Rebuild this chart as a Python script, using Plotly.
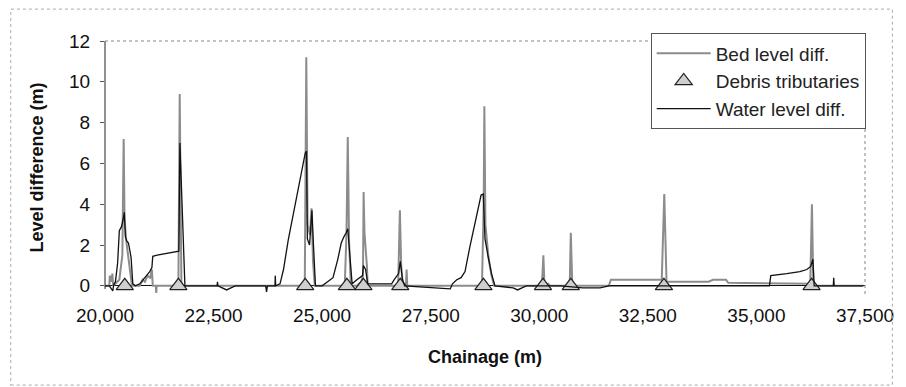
import plotly.graph_objects as go

# ---- data ----
bed_x = [20000, 20100, 20110, 20140, 20170, 20190, 20330, 20400, 20430, 20450, 20490, 20530, 20580, 20620,
         20800, 20870, 20920, 20980, 21040, 21080, 21100, 21170, 21180, 21190, 21690, 21720, 21760,
         24600, 24635, 24665, 24720, 24755, 24790, 24830, 25520, 25560, 25590, 25620, 25660,
         25800, 25900, 25940, 25955, 25975, 26030, 26050, 26750, 26790, 26820, 26860, 26930, 26945, 26960,
         28680, 28720, 28735, 28760, 28830, 28900, 28960, 30060, 30094, 30120, 30200, 30250, 30700, 30726, 30760,
         31600, 31650, 32820, 32878, 32930, 33900, 34000, 34300, 34350, 36240, 36278, 36310, 37460]
bed_y = [0.0, 0.0, 0.5, 0.2, 0.6, 0.0, 0.3, 1.5, 7.2, 3.3, 2.2, 1.5, 0.6, 0.0,
         0.0, 0.3, 0.2, 0.5, 0.4, 0.8, 0.0, 0.0, -0.35, 0.0, 0.0, 9.4, 0.0,
         0.0, 11.2, 3.0, 2.5, 3.8, 1.2, 0.0, 0.0, 2.5, 7.3, 2.2, 0.0,
         0.0, 0.2, 0.5, 4.6, 2.6, 1.0, 0.0, 0.0, 3.7, 1.0, 0.0, 0.0, 0.8, 0.0,
         0.0, 4.0, 8.8, 3.0, 1.4, 0.5, 0.0, 0.0, 1.5, 0.0, 0.1, 0.0, 0.0, 2.6, 0.0,
         0.0, 0.3, 0.3, 4.5, 0.2, 0.2, 0.3, 0.3, 0.15, 0.1, 4.0, 0.0, 0.0]

water_x = [20000, 20100, 20180, 20200, 20240, 20290, 20330, 20380, 20420, 20445, 20470, 20500, 20540, 20560,
           20600, 20640, 20700, 20800, 20880, 20950, 21030, 21080, 21100, 21200, 21400, 21600, 21700, 21725,
           21840, 22580, 22590, 22600, 22700, 22800, 22900, 23000, 23700, 23720, 23740, 23915, 23920, 23930,
           24030, 24110, 24220, 24340, 24450, 24560, 24610, 24640, 24660, 24710, 24765, 24800, 24846,
           25000, 25130, 25250, 25360, 25440, 25500, 25555, 25590, 25650, 25690, 25800, 25930, 25950, 26000, 26050,
           26600, 26660, 26760, 26800, 26850, 26900, 27950, 28000, 28100, 28200, 28290, 28400, 28520, 28600,
           28660, 28710, 28750, 28820, 28900, 28980, 29400, 29500, 29600, 29700, 30500, 31000, 31400, 31600,
           35300, 35330, 35700, 36000, 36160, 36250, 36300, 36330, 36770, 36780, 36790, 37460]
water_y = [0.0, 0.0, -0.25, 0.05, 0.2, 1.1, 2.7, 2.9, 3.3, 3.6, 2.4, 2.2, 2.1, 1.9,
           1.4, 0.1, 0.0, 0.1, 0.3, 0.5, 0.7, 0.9, 1.45, 1.5, 1.58, 1.65, 1.7, 7.0,
           0.0, 0.0, 0.2, 0.0, -0.1, -0.2, -0.1, 0.0, 0.0, -0.3, 0.0, 0.0, 0.5, 0.0,
           0.1, 0.8, 2.25, 3.55, 4.7, 6.0, 6.5, 6.6, 2.3, 2.0, 3.7, 2.0, 0.0,
           0.0, 0.2, 0.4, 1.3, 2.1, 2.4, 2.6, 2.8, 1.3, 0.1, 0.3, 0.5, 1.0, 0.8, 0.1,
           0.1, 0.3, 0.6, 1.2, 0.3, 0.0, -0.15, 0.1, 0.3, 0.4, 0.7, 1.9, 3.05, 3.9,
           4.45, 4.5, 2.3, 1.45, 0.6, 0.0, -0.1, -0.2, -0.1, 0.0, 0.0, -0.1, -0.1, 0.0,
           0.0, 0.5, 0.6, 0.7, 0.8, 0.95, 1.3, 0.0, 0.0, 0.4, 0.0, 0.0]

debris_x = [20455, 21690, 24610, 25570, 25950, 26800, 28715, 30085, 30725, 32870, 36270]
debris_y = [0, 0, 0, 0, 0, 0, 0, 0, 0, 0, 0]

x_ticks = [20000, 22500, 25000, 27500, 30000, 32500, 35000, 37500]
x_tick_labels = ["20,000", "22,500", "25,000", "27,500", "30,000", "32,500", "35,000", "37,500"]
y_ticks = [0, 2, 4, 6, 8, 10, 12]

FONT = "Liberation Sans, Arial, sans-serif"

fig = go.Figure()
fig.add_trace(go.Scatter(x=bed_x, y=bed_y, mode="lines", name="Bed level diff.",
                         line=dict(color="#8c8c8c", width=2)))
fig.add_trace(go.Scatter(x=debris_x, y=debris_y, mode="markers", name="Debris tributaries",
                         marker=dict(symbol="triangle-up", size=15, color="#cfcfcf",
                                     line=dict(color="#222", width=1.2)),
                         cliponaxis=False))
fig.add_trace(go.Scatter(x=water_x, y=water_y, mode="lines", name="Water level diff.",
                         line=dict(color="#111", width=1.3)))

# the page body adds an 8 px offset, so the figure is slightly smaller than the window
fig.update_layout(
    width=898, height=379,
    margin=dict(l=97, r=34, t=33, b=93),
    paper_bgcolor="white", plot_bgcolor="white",
    font=dict(family=FONT, size=19, color="#111"),
    showlegend=True,
    legend=dict(x=0.718, y=1.03, xanchor="left", yanchor="top",
                bgcolor="white", bordercolor="#555", borderwidth=1,
                itemwidth=54,
                font=dict(size=19, color="#222"), tracegroupgap=0),
    xaxis=dict(range=[20000, 37500], tickvals=x_ticks, ticktext=x_tick_labels,
               showgrid=False, zeroline=False, showline=False, ticks="",
               tickfont=dict(size=19), ticklabelstandoff=8,
               title=dict(text="<b>Chainage (m)</b>", font=dict(size=18), standoff=25)),
    yaxis=dict(range=[-0.4, 12], tickvals=y_ticks, showgrid=False,
               zeroline=True, zerolinecolor="#111", zerolinewidth=1.2,
               showline=False,
               ticks="outside", ticklen=4, tickcolor="#555",
               tickfont=dict(size=19), ticklabelstandoff=6,
               title=dict(text="<b>Level difference (m)</b>", font=dict(size=18), standoff=20)),
    shapes=[
        dict(type="line", xref="paper", yref="y", x0=0, x1=0, y0=-0.15, y1=12,
             line=dict(color="#222", width=1)),
        dict(type="line", xref="paper", yref="paper", x0=0, x1=1, y0=1, y1=1,
             line=dict(color="#888", width=1, dash="dot")),
        dict(type="line", xref="paper", yref="paper", x0=1, x1=1, y0=0.0, y1=1,
             line=dict(color="#888", width=1, dash="dot")),
        dict(type="rect", xref="paper", yref="paper", x0=-0.124, x1=1.036, y0=-0.36, y1=1.126,
             line=dict(color="#aaa", width=1, dash="dot")),
    ],
)

fig.write_html("out.html")
